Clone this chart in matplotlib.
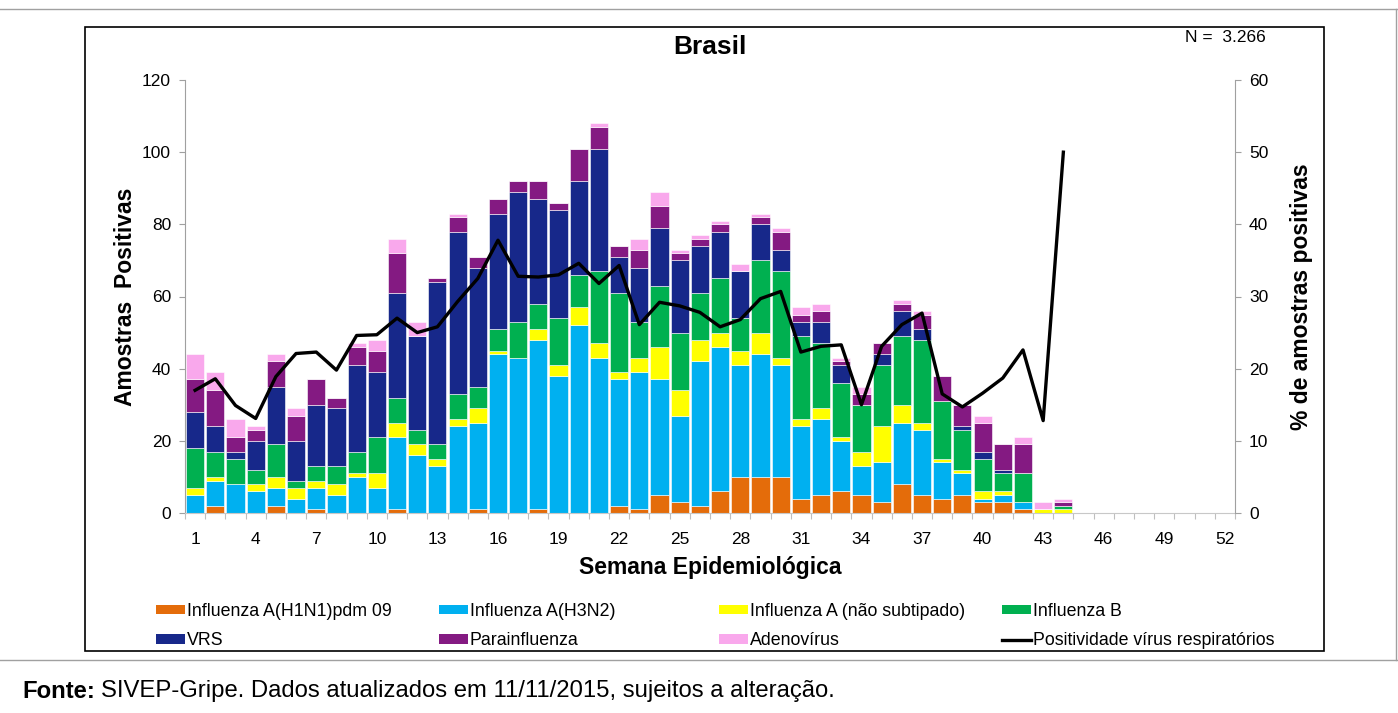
import matplotlib
matplotlib.use("Agg")
import matplotlib.pyplot as plt
from matplotlib.patches import Patch, Rectangle
from matplotlib.lines import Line2D
import numpy as np

plt.rcParams['font.family'] = ['Liberation Sans', 'DejaVu Sans']

weeks = list(range(1, 45))
h1n1 = [0, 2, 0, 0, 2, 0, 1, 0, 0, 0, 1, 0, 0, 0, 1, 0, 0, 1, 0, 0, 0, 2,
        1, 5, 3, 2, 6, 10, 10, 10, 4, 5, 6, 5, 3, 8, 5, 4, 5, 3, 3, 1, 0, 0]
h3n2 = [5, 7, 8, 6, 5, 4, 6, 5, 10, 7, 20, 16, 13, 24, 24, 44, 43, 47, 38, 52, 43, 35,
        38, 32, 24, 40, 40, 31, 34, 31, 20, 21, 14, 8, 11, 17, 18, 10, 6, 1, 2, 2, 0, 0]
a_ns = [2, 1, 0, 2, 3, 3, 2, 3, 1, 4, 4, 3, 2, 2, 4, 1, 0, 3, 3, 5, 4, 2,
        4, 9, 7, 6, 4, 4, 6, 2, 2, 3, 1, 4, 10, 5, 2, 1, 1, 2, 1, 0, 1, 1]
flu_b = [11, 7, 7, 4, 9, 2, 4, 5, 6, 10, 7, 4, 4, 7, 6, 6, 10, 7, 13, 9, 20, 22,
         10, 17, 16, 13, 15, 9, 20, 24, 23, 18, 15, 13, 17, 19, 23, 16, 11, 9, 5, 8, 0, 1]
vrs = [10, 7, 2, 8, 16, 11, 17, 16, 24, 18, 29, 26, 45, 45, 33, 32, 36, 29, 30, 26, 34, 10,
       15, 16, 20, 13, 13, 13, 10, 6, 4, 6, 5, 0, 3, 7, 3, 0, 1, 2, 1, 0, 0, 0]
para = [9, 10, 4, 3, 7, 7, 7, 3, 5, 6, 11, 0, 1, 4, 3, 4, 3, 5, 2, 9, 6, 3,
        5, 6, 2, 2, 2, 0, 2, 5, 2, 3, 1, 3, 3, 2, 4, 7, 6, 8, 7, 8, 0, 1]
adeno = [7, 5, 5, 1, 2, 2, 0, 0, 1, 3, 4, 4, 0, 1, 0, 0, 0, 0, 0, 0, 1, 0,
         3, 4, 1, 1, 1, 2, 1, 1, 2, 2, 1, 2, 0, 1, 1, 0, 0, 2, 0, 2, 2, 1]
positividade = [17.0, 18.6, 14.9, 13.1, 18.9, 22.1, 22.3, 19.8, 24.6, 24.7, 27.0, 25.0,
                25.8, 29.3, 32.5, 37.8, 32.8, 32.7, 33.0, 34.6, 31.8, 34.3, 26.1, 29.2,
                28.7, 27.8, 25.8, 26.8, 29.7, 30.7, 22.3, 23.1, 23.3, 15.0, 23.1, 26.1,
                27.7, 16.5, 14.7, 16.6, 18.7, 22.6, 12.8, 50.0]

series_labels = ['Influenza A(H1N1)pdm 09', 'Influenza A(H3N2)', 'Influenza A (não subtipado)',
                 'Influenza B', 'VRS', 'Parainfluenza', 'Adenovírus']
line_label = 'Positividade vírus respiratórios'
colors = ['#E46C0A', '#00B0F0', '#FFFF00', '#00B050', '#17288A', '#841A82', '#F9A8EC']
xtick_labels = list(range(1, 53, 3))

W, H = 1398, 713
fig = plt.figure(figsize=(W / 100, H / 100), dpi=100)
ax = fig.add_axes([185 / W, 1 - 513 / H, (1235 - 185) / W, (513 - 80) / H])

series = [h1n1, h3n2, a_ns, flu_b, vrs, para, adeno]
bottom = np.zeros(len(weeks))
for vals, col, lab in zip(series, colors, series_labels):
    v = np.array(vals, dtype=float)
    ax.bar(weeks, v, bottom=bottom, width=0.9, color=col, edgecolor='white',
           linewidth=0.4, label=lab, zorder=2)
    bottom += v

ax.set_xlim(0.5, 52.5)
ax.set_ylim(0, 120)
ax.set_yticks(range(0, 121, 20))
ax.set_xticks(xtick_labels)
ax.set_xticklabels([str(t) for t in xtick_labels])
ax.set_xticks(np.arange(0.5, 53, 1), minor=True)
ax.tick_params(axis='x', which='major', length=0, labelsize=12.5, pad=14, colors='black')
ax.tick_params(axis='x', which='minor', length=4, color='#BFBFBF', width=0.8)
ax.tick_params(axis='y', length=4, color='#A0A0A0', labelsize=12.5, pad=6)
for s in ['top', 'right']:
    ax.spines[s].set_visible(False)
ax.spines['left'].set_color('#A0A0A0')
ax.spines['bottom'].set_color('#C8C8C8')
ax.set_xlabel('Semana Epidemiológica', fontsize=16.5, fontweight='bold', labelpad=6)
ax.set_ylabel('Amostras  Positivas', fontsize=16.5, fontweight='bold', labelpad=4)

ax2 = ax.twinx()
ax2.plot(weeks, positividade, color='black', linewidth=2.4, zorder=3, label=line_label)
ax2.set_ylim(0, 60)
ax2.set_yticks(range(0, 61, 10))
ax2.tick_params(axis='y', length=4, color='#A0A0A0', labelsize=12.5, pad=6)
for s in ['top', 'left', 'bottom']:
    ax2.spines[s].set_visible(False)
ax2.spines['right'].set_color('#A0A0A0')
ax2.set_ylabel('% de amostras positivas', fontsize=16.5, fontweight='bold', labelpad=16)

ax.set_title('Brasil', fontsize=19, fontweight='bold', pad=19)
fig.text(1185 / W, 1 - 38 / H, 'N =  3.266', fontsize=12.5, va='center', ha='left')

# Chart frame
fig.patches.append(Rectangle((85 / W, 1 - 651 / H), (1324 - 85) / W, (651 - 27) / H,
                             transform=fig.transFigure, fill=False, edgecolor='black',
                             linewidth=1.2, zorder=0))
# Outer gray lines
fig.add_artist(Line2D([0, 1], [1 - 9 / H, 1 - 9 / H], transform=fig.transFigure,
                      color='#A0A0A0', linewidth=1))
fig.add_artist(Line2D([0, 1], [1 - 660 / H, 1 - 660 / H], transform=fig.transFigure,
                      color='#A0A0A0', linewidth=1))
fig.add_artist(Line2D([1396 / W, 1396 / W], [1 - 9 / H, 1 - 660 / H], transform=fig.transFigure,
                      color='#A0A0A0', linewidth=1))

# Legend: 4 columns x 2 rows
handles = [Patch(facecolor=c, edgecolor='none') for c in colors]
line_handle = Line2D([], [], color='black', linewidth=2.4)
all_handles = handles + [line_handle]
all_labels = series_labels + [line_label]
order_cols = [[0, 4], [1, 5], [2, 6], [3, 7]]
col_x = [156, 439, 719, 1002]
for cx, idx in zip(col_x, order_cols):
    leg = fig.legend([all_handles[i] for i in idx], [all_labels[i] for i in idx],
                     loc='upper left', bbox_to_anchor=(cx / W, 1 - 603 / H),
                     frameon=False, fontsize=12.8, handlelength=1.62, handleheight=0.45,
                     handletextpad=0.12, labelspacing=0.70, borderpad=0, borderaxespad=0)

fig.text(22 / W, 1 - 691 / H, 'Fonte:', fontsize=17.2, fontweight='bold', va='center', ha='left')
fig.text(101 / W, 1 - 691 / H, 'SIVEP-Gripe. Dados atualizados em 11/11/2015, sujeitos a alteração.',
         fontsize=17.2, va='center', ha='left')

fig.savefig('out.png', dpi=100)
